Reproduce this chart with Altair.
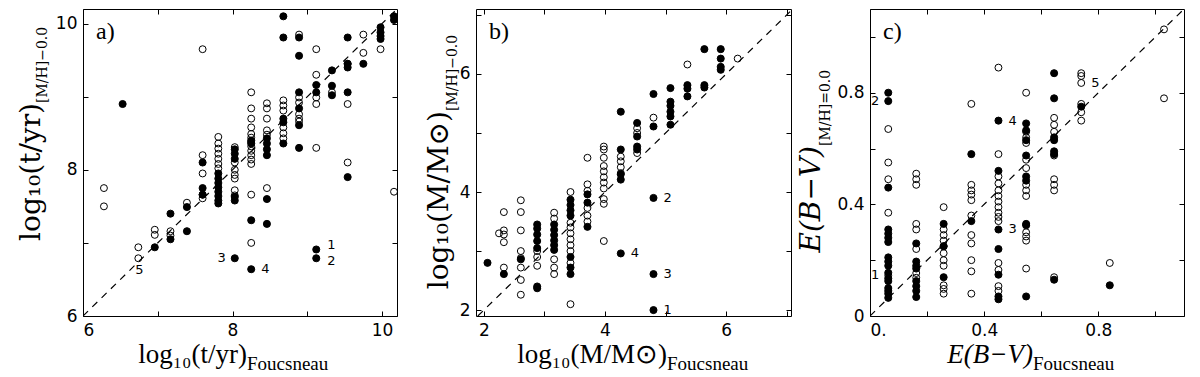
import altair as alt
import pandas as pd

# ---------------- Panel a : log10(t/yr) ----------------
a_cols = [6.28, 6.53, 6.74, 6.96, 7.17, 7.39, 7.60, 7.81, 8.03, 8.25,
          8.46, 8.68, 8.89, 9.12, 9.33, 9.54, 9.75, 9.98, 10.16]
a_fill_y = [
    [], [8.90], [], [6.94], [7.40, 7.05], [7.49, 7.16], [8.10, 7.75, 7.66],
    [7.95, 7.88, 7.82, 7.76, 7.70, 7.64, 7.58, 7.54],
    [8.28, 8.22, 8.15, 7.63, 7.58, 6.79],
    [8.40, 8.36, 7.31, 6.64],
    [8.43, 8.36, 8.28, 8.20, 7.60, 7.26],
    [10.10, 9.81, 8.70, 8.65, 8.36],
    [9.81, 9.56, 9.06, 8.84, 8.61, 8.30],
    [9.16, 9.06, 6.91, 6.79],
    [9.36, 9.15, 9.02],
    [9.81, 9.45, 9.40, 9.06, 7.90],
    [9.45],
    [9.95, 9.88, 9.83, 9.79],
    [10.10, 10.05],
]
a_open_y = [
    [7.75, 7.50], [], [6.94, 6.79], [7.18, 7.11], [7.16, 7.10], [7.55],
    [9.65, 8.20, 7.95, 7.66, 7.61],
    [8.45, 8.36, 8.29, 8.22, 8.15, 8.08, 8.02],
    [8.31, 8.10, 8.00, 7.93, 7.88, 7.72, 7.65],
    [9.06, 8.84, 8.70, 8.58, 8.49, 8.44, 8.38, 8.32, 8.26, 8.20, 8.14, 8.08, 7.66, 7.00],
    [8.91, 8.84, 8.70, 8.54, 8.48, 7.75],
    [8.95, 8.88, 8.81, 8.58, 8.50, 8.43],
    [9.85, 8.99, 8.92, 8.76, 8.70, 8.66],
    [9.65, 9.30, 8.99, 8.90, 8.30],
    [9.06],
    [9.45, 8.90, 8.10],
    [9.85, 9.60],
    [9.65],
    [7.70],
]
a_lab_x = [9.12, 9.12, 8.03, 8.25, 6.74]
a_lab_y = [6.91, 6.79, 6.79, 6.64, 6.79]
a_lab_t = ["1", "2", "3", "4", "5"]
a_lab_side = ["upright", "downright", "left", "right", "below"]

# ---------------- Panel b : log10(M/Msun) ----------------
b_cols = [2.06, 2.25, 2.33, 2.61, 2.88, 3.16, 3.43, 3.71, 3.98, 4.26,
          4.53, 4.80, 5.08, 5.36, 5.64, 5.91, 6.19]
b_fill_y = [
    [2.80], [], [2.61], [2.86],
    [3.45, 3.38, 3.28, 3.17, 3.05, 2.40, 2.37],
    [3.45, 3.36, 3.27, 3.18, 3.10, 3.02],
    [3.87, 3.78, 3.69, 3.60, 2.90, 2.72, 2.61],
    [3.96, 3.82, 3.41],
    [],
    [5.36, 4.72, 4.30, 4.21, 2.96],
    [5.17, 4.94, 4.77, 4.72],
    [5.66, 5.11, 3.90, 2.61, 2.00],
    [5.76, 5.53, 5.46, 5.36, 5.28, 5.14],
    [5.81, 5.75, 5.62],
    [6.42, 5.81, 5.77],
    [6.42, 6.26, 6.12, 6.07],
    [],
]
b_open_y = [
    [], [3.30], [3.66, 3.35, 3.28, 3.15, 2.72],
    [3.86, 3.66, 3.35, 3.00, 2.88, 2.72, 2.51, 2.26],
    [3.00, 2.90, 2.75],
    [3.65, 3.55, 2.86, 2.72, 2.61],
    [4.00, 3.48, 3.40, 3.30, 3.20, 3.10, 3.00, 2.80, 2.10],
    [4.58, 4.13, 4.02, 3.73, 3.60, 3.50],
    [4.77, 4.72, 4.58, 4.44, 4.35, 4.25, 4.16, 4.06, 3.88, 3.80, 3.17],
    [4.60, 4.52, 4.42, 4.32],
    [5.08, 5.00, 4.66],
    [5.26],
    [],
    [6.16],
    [],
    [],
    [6.26],
]
b_lab_x = [4.80, 4.80, 4.80, 4.26]
b_lab_y = [2.00, 3.90, 2.61, 2.96]
b_lab_t = ["1", "2", "3", "4"]
b_lab_side = ["right", "right", "right", "right"]

# ---------------- Panel c : E(B-V) ----------------
c_cols = [0.064, 0.162, 0.258, 0.355, 0.45, 0.547, 0.645, 0.74, 0.84, 1.03]
c_fill_y = [
    [0.80, 0.77, 0.46, 0.31, 0.295, 0.28, 0.265, 0.21, 0.195, 0.18, 0.155,
     0.135, 0.125, 0.10, 0.09, 0.08, 0.065],
    [0.26, 0.195, 0.18, 0.17, 0.125, 0.107, 0.09, 0.068],
    [0.33, 0.25, 0.139],
    [0.58, 0.34],
    [0.70, 0.52, 0.31, 0.24, 0.148, 0.07, 0.06],
    [0.69, 0.665, 0.63, 0.575, 0.50, 0.485, 0.33, 0.325, 0.07],
    [0.87, 0.78, 0.64, 0.63, 0.59, 0.58, 0.13],
    [0.75],
    [0.11],
    [],
]
c_open_y = [
    [0.67, 0.55, 0.49, 0.37, 0.146],
    [0.51, 0.49, 0.47, 0.33, 0.31, 0.24, 0.154, 0.137],
    [0.39, 0.31, 0.29, 0.27, 0.25, 0.225, 0.20, 0.18, 0.11, 0.097, 0.08],
    [0.76, 0.47, 0.45, 0.435, 0.415, 0.36, 0.29, 0.26, 0.20, 0.16, 0.08],
    [0.89, 0.58, 0.50, 0.475, 0.45, 0.43, 0.41, 0.39, 0.37, 0.355, 0.34,
     0.19, 0.165, 0.107, 0.09],
    [0.80, 0.66, 0.64, 0.62, 0.56, 0.53, 0.47, 0.45, 0.43, 0.30, 0.285, 0.27, 0.17],
    [0.71, 0.685, 0.66, 0.575, 0.49, 0.47, 0.45, 0.139],
    [0.87, 0.86, 0.835, 0.76, 0.73, 0.70],
    [0.19],
    [1.027, 0.78],
]
c_lab_x = [0.064, 0.064, 0.45, 0.45, 0.74]
c_lab_y = [0.146, 0.77, 0.31, 0.70, 0.835]
c_lab_t = ["1", "2", "3", "4", "5"]
c_lab_side = ["left", "left", "right", "right", "right"]

# axis texts
x_main = ["log₁₀(t/yr)", "log₁₀(M/M⊙)", "E(B−V)"]
x_sub = ["Foucsneau", "Foucsneau", "Foucsneau"]
y_main = ["log₁₀(t/yr)", "log₁₀(M/M⊙)", "E(B−V)"]
y_sub = ["[M/H]−0.0", "[M/H]−0.0", "[M/H]=0.0"]
panel_tag = ["a)", "b)", "c)"]

H = 307
WIDTHS = [314, 315, 314]


def expand(cols, ys):
    xs, yv = [], []
    for c, col in zip(cols, ys):
        for v in col:
            xs.append(c)
            yv.append(v)
    return pd.DataFrame({"x": xs, "y": yv})


def text_layer(s, x, y, size, font, angle=0, align="left", style="normal"):
    return alt.Chart(pd.DataFrame({"t": [s]})).mark_text(
        font=font, fontSize=size, angle=angle, align=align,
        baseline="alphabetic", fontStyle=style, color="black"
    ).encode(text="t:N", x=alt.value(x), y=alt.value(y))


def panel(i, cols, fill_y, open_y, dom_x, dom_y, tick_vals, lab_vals, diag,
          lab_x, lab_y, lab_t, lab_side, x_expr, y_expr, pos):
    w = WIDTHS[i]
    sx = alt.Scale(domain=dom_x, nice=False, zero=False)
    sy = alt.Scale(domain=dom_y, nice=False, zero=False)
    lab_common = dict(values=lab_vals, ticks=False, domain=False, grid=False,
                      title=None, labelFont="DejaVu Sans", labelFontSize=17,
                      labelColor="black", labelPadding=6)
    ax_x = alt.Axis(orient="bottom", labelExpr=x_expr, **lab_common)
    ax_y = alt.Axis(orient="left", labelExpr=y_expr, **lab_common)
    tick_common = dict(values=tick_vals, labels=False, domain=False, grid=False,
                       title=None, ticks=True, tickSize=5, tickColor="black",
                       tickWidth=1)

    diag_layer = alt.Chart(pd.DataFrame({"x": diag, "y": diag})).mark_line(
        color="black", strokeDash=[7, 6], strokeWidth=1.2, clip=True
    ).encode(
        x=alt.X("x:Q", scale=sx, axis=alt.Axis(orient="bottom", offset=-H, **tick_common)),
        y=alt.Y("y:Q", scale=sy, axis=alt.Axis(orient="left", offset=-w, **tick_common)),
    )
    open_layer = alt.Chart(expand(cols, open_y)).mark_point(
        shape="circle", filled=False, stroke="black", strokeWidth=1, size=48,
        opacity=1, clip=True
    ).encode(x=alt.X("x:Q", scale=sx, axis=ax_x),
             y=alt.Y("y:Q", scale=sy, axis=ax_y))
    fill_layer = alt.Chart(expand(cols, fill_y)).mark_point(
        shape="circle", filled=True, fill="black", stroke="black",
        strokeWidth=1, size=50, opacity=1, clip=True
    ).encode(
        x=alt.X("x:Q", scale=sx, axis=alt.Axis(orient="top", offset=-H, **tick_common)),
        y=alt.Y("y:Q", scale=sy, axis=alt.Axis(orient="right", offset=-w, **tick_common)),
    )
    labdf = pd.DataFrame({"x": lab_x, "y": lab_y, "t": lab_t, "side": lab_side})
    lab_layers = []
    offsets = {
        "right": (10, 0, "left"),
        "upright": (11, -4, "left"),
        "downright": (11, 3, "left"),
        "left": (-9, 0, "right"),
        "below": (1, 12, "center"),
    }
    for side, (dx, dy, al) in offsets.items():
        sub = labdf[labdf["side"] == side]
        if len(sub) == 0:
            continue
        lab_layers.append(alt.Chart(sub).mark_text(
            font="DejaVu Sans", fontSize=13, color="black", align=al,
            baseline="middle", dx=dx, dy=dy
        ).encode(x=alt.X("x:Q", scale=sx, axis=None),
                 y=alt.Y("y:Q", scale=sy, axis=None), text="t:N"))

    xs, ymb, ysb, yy = pos
    style = "italic" if i == 2 else "normal"
    texts = [
        text_layer(x_main[i], xs, H + 47, 27, "Liberation Serif", align="right", style=style),
        text_layer(x_sub[i], xs, H + 54, 19, "Liberation Serif", align="left"),
        text_layer(y_main[i], ymb, yy, 28, "DejaVu Serif", angle=270, align="right", style=style),
        text_layer(y_sub[i], ysb, yy, 14, "DejaVu Serif", angle=270, align="left"),
        text_layer(panel_tag[i], 13, 30, 24, "Liberation Serif"),
    ]
    return alt.layer(diag_layer, open_layer, fill_layer, *lab_layers, *texts).resolve_axis(
        x="independent", y="independent").properties(width=w, height=H)


pa = panel(0, a_cols, a_fill_y, a_open_y, [6, 10.2], [6, 10.2],
           [6, 7, 8, 9, 10], [6, 8, 10], [6, 10.2],
           a_lab_x, a_lab_y, a_lab_t, a_lab_side,
           "format(datum.value, 'd')", "format(datum.value, 'd')",
           (164, -43, -36, 94))
pb = panel(1, b_cols, b_fill_y, b_open_y, [1.87, 7.07], [1.9, 7.1],
           [2, 3, 4, 5, 6, 7], [2, 4, 6], [1.9, 7.07],
           b_lab_x, b_lab_y, b_lab_t, b_lab_side,
           "format(datum.value, 'd')", "format(datum.value, 'd')",
           (191, -28, -19, 102))
pc = panel(2, c_cols, c_fill_y, c_open_y, [0, 1.1], [0, 1.1],
           [0, 0.2, 0.4, 0.6, 0.8, 1.0], [0, 0.4, 0.8], [0, 1.1],
           c_lab_x, c_lab_y, c_lab_t, c_lab_side,
           "datum.value == 0 ? '0.' : format(datum.value, '.1f')",
           "datum.value == 0 ? '0' : format(datum.value, '.1f')",
           (163, -50, -40, 137))

chart = alt.hconcat(pa, pb, pc, spacing=79, bounds="flush").properties(
    padding={"left": 9, "top": 0, "right": 0, "bottom": 0}
).configure_view(stroke="black", strokeWidth=1)

chart.save("out.html", embed_options={"renderer": "svg", "actions": False})
